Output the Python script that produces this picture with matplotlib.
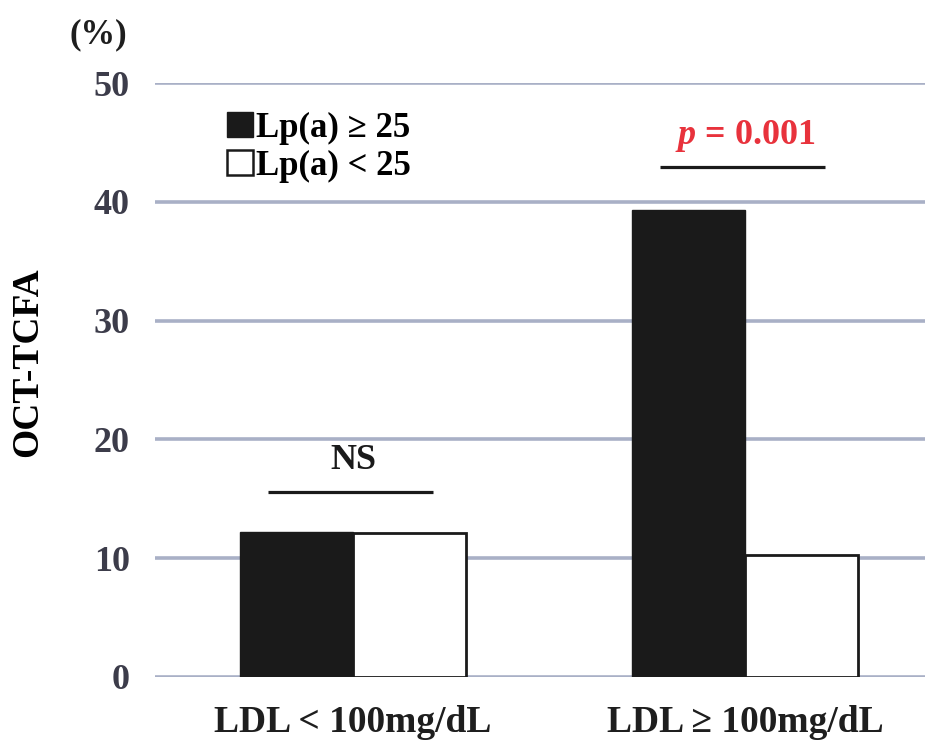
import matplotlib
matplotlib.use("Agg")
import matplotlib.pyplot as plt
from matplotlib.patches import Patch
import numpy as np

#%% data
groups = ["LDL < 100mg/dL", "LDL ≥ 100mg/dL"]
lpa_high = [12.2, 39.3]   # Lp(a) >= 25
lpa_low = [12.1, 10.3]    # Lp(a) < 25
sig_labels = ["NS", "$p$ = 0.001"]
sig_colors = ["#1a1a1a", "#e8323c"]
sig_line_y = [15.6, 42.9]
yticks = [0, 10, 20, 30, 40, 50]

#%% style
plt.rcParams["font.family"] = ["Liberation Serif", "DejaVu Serif"]
plt.rcParams["font.weight"] = "bold"
plt.rcParams["mathtext.fontset"] = "custom"
plt.rcParams["mathtext.rm"] = "Liberation Serif:bold"
plt.rcParams["mathtext.it"] = "Liberation Serif:bold:italic"

fig = plt.figure(figsize=(9.29, 7.44), dpi=100)
ax = fig.add_axes([0.1668, 0.0901, 0.8289, 0.7983])

x = np.arange(len(groups))
w = 0.288
ax.bar(x - w / 2, lpa_high, width=w, color="#1a1a1a", edgecolor="#1a1a1a", linewidth=1, zorder=3)
ax.bar(x + w / 2, lpa_low, width=w, color="white", edgecolor="#1a1a1a", linewidth=2, zorder=3)

# significance lines and labels
for i in range(len(groups)):
    ax.plot([x[i] - 0.217, x[i] + 0.205], [sig_line_y[i], sig_line_y[i]],
            color="#1a1a1a", lw=2.3, solid_capstyle="butt", zorder=4)
    ax.text(x[i], sig_line_y[i] + 2.6, sig_labels[i], ha="center", va="center",
            fontsize=26, fontweight="bold", color=sig_colors[i])

ax.set_xlim(-0.505, 1.459)
ax.set_ylim(0, 50)
ax.set_yticks(yticks)
ax.set_xticks(x)
ax.set_xticklabels(groups, fontsize=27, fontweight="bold", color="#1e1e1e")
ax.tick_params(axis="y", length=0, pad=18, labelsize=26, labelcolor="#3c3c4a")
ax.tick_params(axis="x", length=0, pad=20)
for s in ax.spines.values():
    s.set_visible(False)
ax.grid(axis="y", color="#a9b0c6", lw=2.6, zorder=1)
ax.set_axisbelow(True)

ax.set_ylabel("OCT-TCFA", fontsize=27, fontweight="bold")
ax.yaxis.set_label_coords(-0.143, 0.53)
fig.text(0.0753, 0.942, "(%)", fontsize=25, fontweight="bold", color="#1e1e1e")

handles = [Patch(facecolor="#1a1a1a", edgecolor="#1a1a1a"),
           Patch(facecolor="white", edgecolor="#1a1a1a", linewidth=1.8)]
ax.legend(handles, ["Lp(a) ≥ 25", "Lp(a) < 25"], loc="upper left",
          bbox_to_anchor=(0.093, 0.952), frameon=False, fontsize=25,
          handlelength=0.75, handleheight=0.75, handletextpad=0.1,
          borderpad=0, borderaxespad=0, labelspacing=0.15)

plt.savefig("out.png", dpi=100)
